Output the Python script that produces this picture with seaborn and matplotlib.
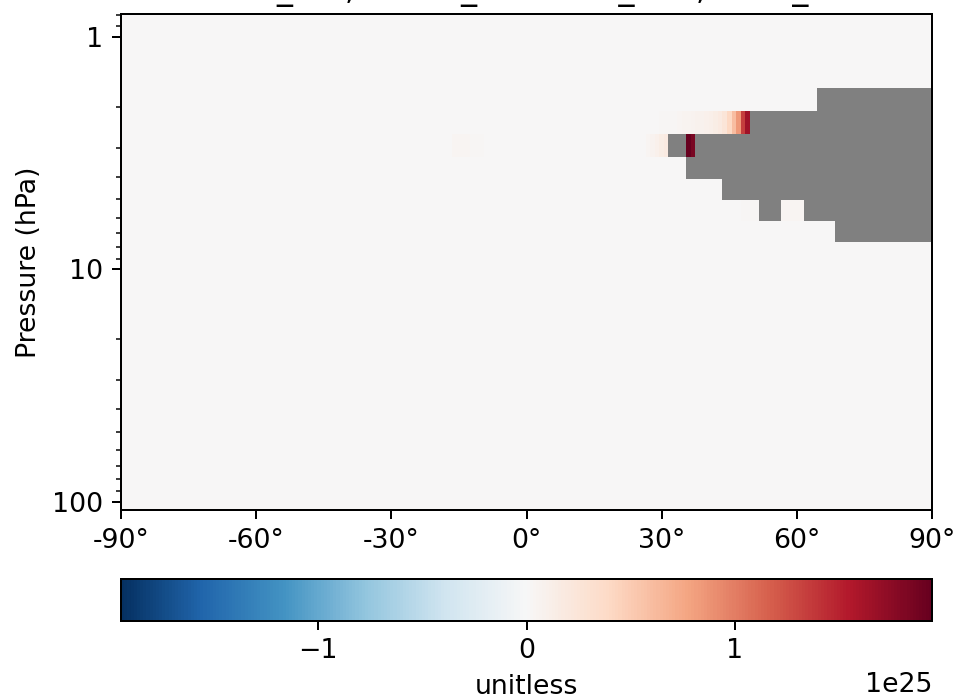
import numpy as np
import seaborn as sns
import matplotlib
matplotlib.use("Agg")
import matplotlib.pyplot as plt
from matplotlib.ticker import FixedLocator, NullFormatter

plt.rcParams["font.size"] = 10.7

# GEOS 72-level pressure edges (hPa), bottom to top of the plotted range
pressure_edges = [108.663, 92.3657, 78.5123, 66.6034, 56.3879, 47.6439, 40.1754,
                  33.8100, 28.3678, 23.7304, 19.7916, 16.4571, 13.6434, 11.2769,
                  9.2929, 7.6198, 6.2168, 5.0468, 4.0766, 3.2764, 2.6202, 2.0850,
                  1.6508, 1.3005, 1.0194, 0.7951]
# 1x1.25 latitude edges
lat_edges = [-90.0] + [x - 0.5 for x in range(-89, 91)] + [90.0]

# missing (grey) lat ranges, keyed by level index
grey_ranges = {
    21: [(64.5, 90)],
    20: [(49.5, 90)],
    19: [(31.5, 35.5), (37.5, 90)],
    18: [(35.5, 90)],
    17: [(43.5, 90)],
    16: [(51.5, 56.5), (61.5, 90)],
    15: [(68.5, 90)],
}

# non-zero cells (units of 1e25): (level, first lat edge, values)
lvl20_vals = [0.01, 0.01, 0.02, 0.02, 0.03, 0.03, 0.04, 0.05, 0.06, 0.07, 0.08,
              0.09, 0.10, 0.12, 0.14, 0.18, 0.25, 0.40, 0.60, 0.85, 1.35, 1.65]
lvl19_north_vals = [0.04, 0.07, 0.10, 0.14, 0.18]
lvl19_peak_vals = [1.945, 1.85]
lvl19_south_vals = [0.04, 0.04, 0.04, 0.04, 0.03, 0.02, 0.02]
lvl16_a_vals = [0.01, 0.02, 0.02, 0.03, 0.03]
lvl16_b_vals = [0.04, 0.04, 0.04, 0.04, 0.04]
cells = [
    (20, 27.5, lvl20_vals),
    (19, 26.5, lvl19_north_vals),
    (19, 35.5, lvl19_peak_vals),
    (19, -16.5, lvl19_south_vals),
    (16, 46.5, lvl16_a_vals),
    (16, 56.5, lvl16_b_vals),
]


def lat_index(lat):
    return lat_edges.index(float(lat))


field = np.zeros((len(pressure_edges) - 1, len(lat_edges) - 1))
for lev, start, vals in cells:
    i0 = lat_index(start)
    field[lev, i0:i0 + len(vals)] = np.array(vals) * 1e25
for lev, ranges in grey_ranges.items():
    for a, b in ranges:
        field[lev, lat_index(a):lat_index(b)] = np.nan
field = np.ma.masked_invalid(field)

cmap = sns.color_palette("RdBu_r", as_cmap=True).copy()
cmap.set_bad("grey")
vmax = np.abs(field).max()

fig = plt.figure(figsize=(957 / 180, 700 / 180), dpi=180)
ax = fig.add_axes([121 / 957, 1 - 510 / 700, 811 / 957, 496 / 700])
cax = fig.add_axes([121 / 957, 1 - 621 / 700, 811 / 957, 42 / 700])

mesh = ax.pcolormesh(lat_edges, pressure_edges, field, cmap=cmap,
                     vmin=-vmax, vmax=vmax)
ax.set_yscale("log")
ax.set_ylim(pressure_edges[0], pressure_edges[-1])
ax.set_xlim(-90, 90)
ax.yaxis.set_major_locator(FixedLocator([1, 10, 100]))
ax.set_yticklabels(["1", "10", "100"])
ax.yaxis.set_minor_formatter(NullFormatter())
xt = list(range(-90, 91, 30))
ax.set_xticks(xt)
ax.set_xticklabels([f"{v}°" for v in xt])
ax.set_ylabel("Pressure (hPa)")
ax.set_title("Ratio_Ref, Model_A vs Dev_Run, Data_NO", fontsize=12.8)

cbar = fig.colorbar(mesh, cax=cax, orientation="horizontal")
cbar.set_ticks([-1e25, 0, 1e25])
cbar.set_label("unitless")

fig.savefig("out.png", dpi=180)
